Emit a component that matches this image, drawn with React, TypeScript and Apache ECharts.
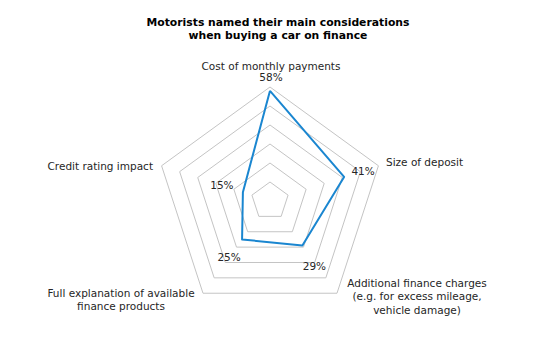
import React, { useEffect, useRef } from "react";
import * as echarts from "echarts";

// Categories listed clockwise from the top
const categories = [
  "Cost of monthly payments",
  "Size of deposit",
  "Additional finance charges\n(e.g. for excess mileage,\nvehicle damage)",
  "Full explanation of available\nfinance products",
  "Credit rating impact",
];
const values = [58, 41, 29, 25, 15];
const axisMax = 60;
const splitCount = 6;
const titleLines = ["Motorists named their main considerations", "when buying a car on finance"];

const FONT = "DejaVu Sans";
const TEXT = "#262626";
const M = 8; // body margin offset

export default function App() {
  const ref = useRef<HTMLDivElement>(null);
  useEffect(() => {
    if (!ref.current) return;
    const chart = echarts.init(ref.current, null, { renderer: "svg" });
    // ECharts radar goes counter-clockwise; reorder to get clockwise layout
    const order = [0, 4, 3, 2, 1];
    const indicator = order.map((i) => ({ name: categories[i], max: axisMax }));
    const orderedValues = order.map((i) => values[i]);

    const labelOffsets: Record<number, [number, number]> = {
      0: [1, -14],
      1: [19, -5.5],
      2: [12, 20.5],
      3: [-13, 18],
      4: [-21, -7],
    };

    const labelSeries = values.map((v, ci) => {
      const arr = order.map((i) => (i === ci ? values[i] : null));
      return {
        type: "radar",
        symbol: "circle",
        symbolSize: 0.1,
        itemStyle: { color: "transparent" },
        lineStyle: { width: 0, opacity: 0 },
        silent: true,
        label: {
          show: true,
          position: "inside",
          offset: labelOffsets[ci],
          fontFamily: FONT,
          fontSize: 10.5,
          color: TEXT,
          formatter: (p: any) => {
            const val = Array.isArray(p.value) ? p.value[p.dimensionIndex] : p.value;
            return val == null || isNaN(val) ? "" : `${val}%`;
          },
        },
        data: [{ value: arr }],
        z: 3,
      };
    });

    const nameStyle = { fontFamily: FONT, fontSize: 10.5, fill: TEXT, lineHeight: 13.5 };

    chart.setOption({
      animation: false,
      backgroundColor: "#ffffff",
      radar: {
        center: [270 - M, 201 - M],
        radius: 114,
        startAngle: 90,
        shape: "polygon",
        splitNumber: splitCount,
        indicator,
        axisName: { show: false },
        axisLine: { show: false },
        axisTick: { show: false },
        axisLabel: { show: false },
        splitArea: { show: false },
        splitLine: { lineStyle: { color: "#c4c4c4", width: 1 } },
      },
      graphic: [
        {
          type: "text",
          x: 278 - M,
          y: 15.5 - M,
          style: {
            text: titleLines.join("\n"),
            fontFamily: FONT,
            fontWeight: "bold",
            fontSize: 10.8,
            lineHeight: 13.5,
            fill: "#000000",
            textAlign: "center",
          },
        },
        { type: "text", x: 271 - M, y: 59 - M, style: { ...nameStyle, text: categories[0], textAlign: "center" } },
        { type: "text", x: 386 - M, y: 155 - M, style: { ...nameStyle, text: categories[1], textAlign: "left" } },
        { type: "text", x: 417 - M, y: 276 - M, style: { ...nameStyle, text: categories[2], textAlign: "center" } },
        { type: "text", x: 121 - M, y: 286 - M, style: { ...nameStyle, text: categories[3], textAlign: "center" } },
        { type: "text", x: 153 - M, y: 159 - M, style: { ...nameStyle, text: categories[4], textAlign: "right" } },
      ],
      series: [
        {
          type: "radar",
          symbol: "none",
          lineStyle: { color: "#1a86d0", width: 2 },
          data: [{ value: orderedValues }],
          z: 2,
        },
        ...labelSeries,
      ],
    });
    return () => chart.dispose();
  }, []);
  return <div ref={ref} style={{ width: 555 - M, height: 358 - M }} />;
}
